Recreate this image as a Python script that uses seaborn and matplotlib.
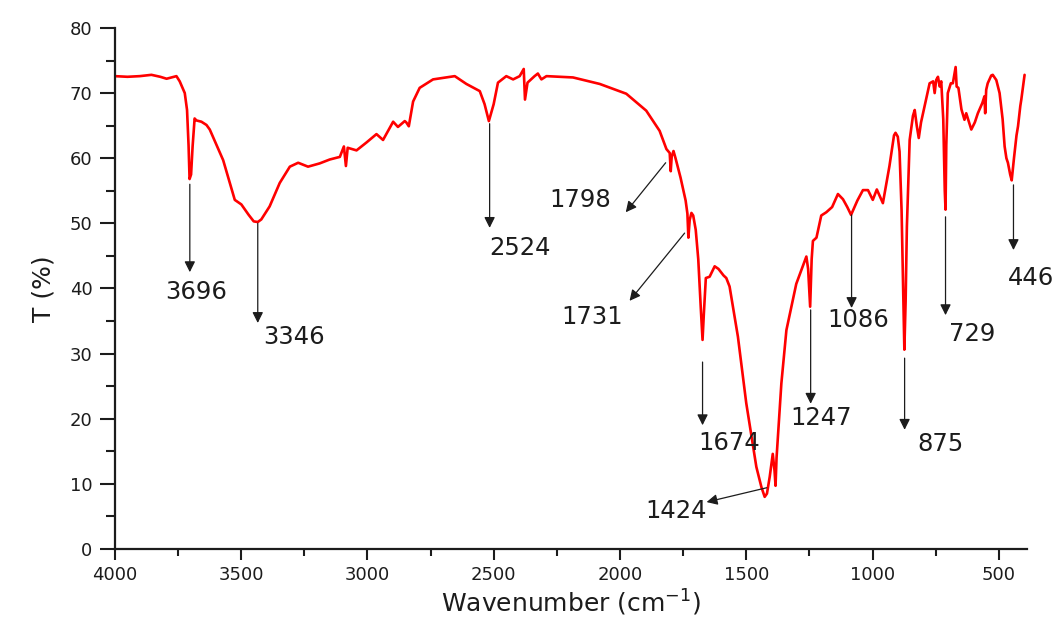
import pandas as pd
import matplotlib
matplotlib.use('Agg')
import matplotlib.pyplot as plt
from matplotlib.ticker import MultipleLocator
import seaborn as sns

# spectrum (wavenumber in cm-1, transmittance in %)
wavenumber = [
    4000, 3950, 3901, 3855, 3820, 3795, 3756, 3743, 3723, 3714, 3708, 3704, 3698, 3692,
    3684, 3677, 3657, 3637, 3624, 3571, 3525, 3499, 3470, 3450, 3434, 3420, 3387, 3347,
    3307, 3274, 3235, 3189, 3149, 3109, 3093, 3085, 3078, 3043, 3004, 2964, 2938, 2898,
    2879, 2852, 2846, 2836, 2819, 2793, 2740, 2654, 2608, 2555, 2536, 2519, 2500, 2483,
    2450, 2423, 2397, 2381, 2376, 2366, 2338, 2325, 2311, 2291, 2186, 2080, 1975, 1896,
    1843, 1816, 1803, 1799, 1795, 1788, 1780, 1760, 1740, 1733, 1729, 1724, 1717, 1710,
    1700, 1690, 1680, 1673, 1668, 1660, 1645, 1625, 1610, 1590, 1579, 1566, 1533, 1500,
    1460, 1440, 1427, 1418, 1407, 1395, 1388, 1384, 1380, 1361, 1341, 1302, 1262, 1255,
    1247, 1241, 1236, 1222, 1203, 1183, 1160, 1137, 1117, 1100, 1085, 1060, 1038, 1018,
    999, 983, 959, 933, 915, 909, 900, 893, 885, 878, 874, 869, 864, 853, 840, 833, 825,
    817, 808, 800, 774, 760, 754, 748, 741, 734, 728, 720, 714, 711, 708, 702, 690, 682,
    671, 667, 660, 648, 636, 629, 618, 609, 595, 583, 565, 557, 554, 550, 544, 530, 524,
    510, 497, 485, 477, 470, 464, 455, 449, 440, 430, 424, 415, 411, 398,
]
transmittance = [
    72.6, 72.5, 72.6, 72.8, 72.5, 72.2, 72.6, 71.8, 70.0, 67.4, 62.0, 56.8, 57.5, 61.8,
    66.1, 65.8, 65.6, 65.1, 64.4, 59.7, 53.6, 52.9, 51.3, 50.3, 50.2, 50.6, 52.6, 56.2,
    58.7, 59.3, 58.7, 59.2, 59.8, 60.2, 61.8, 58.8, 61.6, 61.2, 62.4, 63.7, 62.8, 65.6,
    64.8, 65.7, 65.5, 64.9, 68.7, 70.8, 72.1, 72.6, 71.4, 70.3, 68.3, 65.7, 68.3, 71.6,
    72.6, 72.1, 72.6, 73.7, 69.0, 71.6, 72.6, 73.0, 72.1, 72.6, 72.4, 71.4, 69.9, 67.3,
    64.2, 61.4, 60.8, 58.0, 60.3, 61.1, 60.0, 57.0, 53.5, 51.5, 47.8, 50.5, 51.6, 51.2,
    49.0, 44.5, 37.0, 32.1, 36.0, 41.6, 41.8, 43.4, 43.0, 42.0, 41.6, 40.3, 32.6, 22.4,
    12.6, 9.5, 8.0, 8.5, 11.1, 14.6, 12.0, 9.7, 14.0, 25.4, 33.6, 40.7, 44.9, 43.0,
    37.2, 44.5, 47.3, 47.8, 51.2, 51.7, 52.5, 54.5, 53.7, 52.5, 51.3, 53.5, 55.1, 55.1,
    53.6, 55.2, 53.1, 58.8, 63.5, 63.9, 63.3, 61.0, 52.0, 38.0, 30.6, 38.0, 49.5, 62.8,
    66.5, 67.4, 65.0, 63.1, 65.5, 66.9, 71.5, 71.8, 70.0, 72.0, 72.5, 71.0, 71.8, 66.0,
    55.0, 52.1, 62.0, 70.0, 71.5, 71.5, 74.0, 71.0, 70.8, 67.5, 65.9, 66.9, 65.5, 64.4,
    65.5, 66.9, 68.5, 69.5, 66.9, 70.5, 71.5, 72.7, 72.8, 72.0, 70.0, 66.0, 61.8, 60.0,
    59.3, 57.5, 56.6, 60.0, 63.5, 64.9, 68.0, 69.0, 72.8,
]

# peak labels, arrow start (on the curve), arrow tip and label position
peak_labels = ['3696', '3346', '2524', '1798', '1731', '1674', '1424',
               '1247', '1086', '875', '729', '446']
arrow_start_x = [3703, 3434, 2516, 1819, 1744, 1673, 1419, 1245, 1083, 873, 711, 442]
arrow_start_y = [56.0, 50.0, 65.3, 59.3, 48.5, 28.7, 9.4, 36.7, 51.3, 29.3, 51.0, 55.9]
arrow_tip_x = [3703, 3434, 2516, 1977, 1962, 1673, 1657, 1245, 1083, 873, 711, 442]
arrow_tip_y = [42.5, 34.7, 49.3, 51.7, 38.1, 19.0, 7.2, 22.3, 37.0, 18.3, 35.9, 45.9]
label_x = [3679, 3292, 2397, 2156, 2112, 1566, 1776, 1202, 1055, 731, 604, 371]
label_y = [39.5, 32.6, 46.2, 53.6, 35.6, 16.3, 5.8, 20.1, 35.2, 16.1, 33.0, 41.6]

df = pd.DataFrame({'Wavenumber': wavenumber, 'T': transmittance})

sns.set_theme(style='ticks')
plt.rcParams['font.family'] = ['DejaVu Sans']

ink = '#1c1c1c'
fig = plt.figure(figsize=(10.63, 6.21), dpi=100)
ax = fig.add_axes([0.108, 0.116, 0.858, 0.839])

sns.lineplot(data=df, x='Wavenumber', y='T', sort=False, color='#ff0000',
             linewidth=1.9, ax=ax)

for lab, sx, sy, tx, ty, lx, ly in zip(peak_labels, arrow_start_x, arrow_start_y,
                                       arrow_tip_x, arrow_tip_y, label_x, label_y):
    ax.annotate('', xy=(tx, ty), xytext=(sx, sy),
                arrowprops=dict(arrowstyle='-|>', color=ink, lw=0.9,
                                mutation_scale=16, shrinkA=0, shrinkB=0))
    ax.text(lx, ly, lab, ha='center', va='center', fontsize=17.5, color=ink)

ax.set_xlim(4000, 389)
ax.set_ylim(0, 80)
ax.set_xticks([4000, 3500, 3000, 2500, 2000, 1500, 1000, 500])
ax.set_yticks(range(0, 81, 10))
ax.xaxis.set_minor_locator(MultipleLocator(250))
ax.yaxis.set_minor_locator(MultipleLocator(5))

sns.despine(ax=ax)
for side in ['left', 'bottom']:
    ax.spines[side].set_linewidth(1.6)
    ax.spines[side].set_color(ink)

ax.tick_params(axis='x', which='major', length=8, width=1.5, color=ink,
               labelsize=13, labelcolor=ink, pad=4)
ax.tick_params(axis='x', which='minor', length=5, width=1.5, color=ink)
ax.tick_params(axis='y', which='major', length=11, width=1.5, color=ink,
               labelsize=13, labelcolor=ink, pad=5)
ax.tick_params(axis='y', which='minor', length=6.5, width=1.5, color=ink)

ax.set_xlabel('Wavenumber (cm$^{-1}$)', fontsize=18, color=ink, labelpad=3)
ax.set_ylabel('T (%)', fontsize=18, color=ink, labelpad=10)

fig.savefig('out.png', dpi=100, facecolor='white')
